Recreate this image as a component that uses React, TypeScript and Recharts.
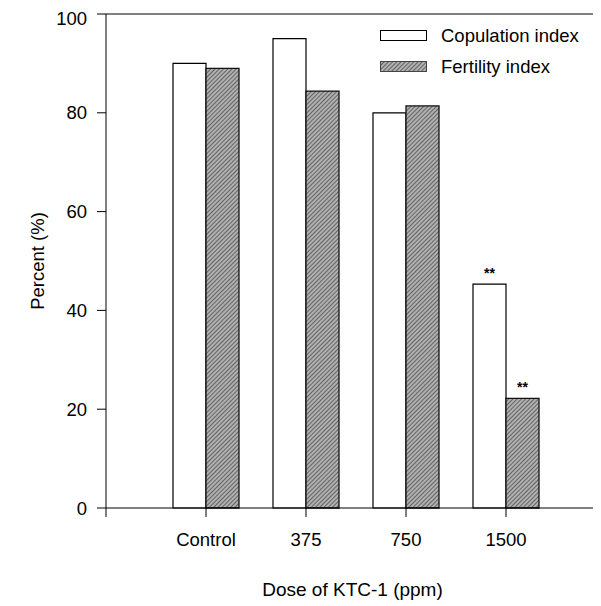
import React from "react";
import { BarChart, Bar, XAxis, YAxis, ReferenceLine, LabelList } from "recharts";

const doses = ["Control", "375", "750", "1500"];
const doseSlots = [1, 2, 3, 4];
const copulation = [90, 95, 80, 45.3];
const fertility = [89, 84.4, 81.4, 22.2];
const copulationMarks = ["", "", "", "**"];
const fertilityMarks = ["", "", "", "**"];
const yTicks = [0, 20, 40, 60, 80, 100];
const xTicks = [0, 1, 2, 3, 4];

const data = doses.map((name, i) => ({
  name,
  slot: doseSlots[i],
  copulation: copulation[i],
  fertility: fertility[i],
  copMark: copulationMarks[i],
  fertMark: fertilityMarks[i],
}));

const font = "'Liberation Sans', Arial, sans-serif";

const LegendBox = () => (
  <div
    style={{
      position: "absolute",
      left: 372,
      top: 12,
      fontFamily: font,
      fontSize: 18.5,
      color: "#000",
    }}
  >
    <div style={{ display: "flex", alignItems: "center", height: 31 }}>
      <svg width={48} height={12} style={{ marginRight: 13 }}>
        <rect x={0.5} y={0.5} width={46} height={10} fill="#fff" stroke="#000" />
      </svg>
      <span>Copulation index</span>
    </div>
    <div style={{ display: "flex", alignItems: "center", height: 31 }}>
      <svg width={48} height={12} style={{ marginRight: 13 }}>
        <rect x={0.5} y={0.5} width={46} height={10} fill="url(#hatch)" stroke="#444" />
      </svg>
      <span>Fertility index</span>
    </div>
  </div>
);

export default function App() {
  return (
    <div style={{ position: "relative", width: 593, height: 598, fontFamily: font }}>
      <BarChart
        width={593}
        height={598}
        data={data}
        margin={{ top: 6, right: 2, left: 0, bottom: 58 }}
        barGap={0}
      >
        <defs>
          <pattern
            id="hatch"
            width={3}
            height={3}
            patternUnits="userSpaceOnUse"
            patternTransform="rotate(45)"
          >
            <rect width={3} height={3} fill="#b0b0b0" />
            <line x1={0} y1={0} x2={0} y2={3} stroke="#3a3a3a" strokeWidth={1.3} />
          </pattern>
        </defs>
        <XAxis
          dataKey="slot"
          type="number"
          domain={[0, 4.93]}
          ticks={xTicks}
          allowDataOverflow
          height={40}
          tickSize={9}
          tickMargin={16}
          axisLine={{ stroke: "#000" }}
          tickLine={{ stroke: "#000" }}
          tick={{ fill: "#000", fontSize: 18.5, fontFamily: font }}
          tickFormatter={(v: number) => doses[v - 1] ?? ""}
          label={{
            value: "Dose of KTC-1 (ppm)",
            position: "bottom",
            offset: 35,
            fill: "#000",
            fontSize: 19,
            fontFamily: font,
          }}
        />
        <YAxis
          domain={[0, 100]}
          ticks={yTicks}
          width={98}
          tickSize={9}
          tickMargin={10}
          axisLine={{ stroke: "#000" }}
          tickLine={{ stroke: "#000" }}
          tick={{ fill: "#000", fontSize: 18.5, fontFamily: font }}
          label={{
            value: "Percent (%)",
            angle: -90,
            position: "insideLeft",
            offset: 29,
            fill: "#000",
            fontSize: 18.5,
            fontFamily: font,
            style: { textAnchor: "middle" },
          }}
        />
        <ReferenceLine y={100} stroke="#000" />
        <Bar
          dataKey="copulation"
          fill="#fff"
          stroke="#000"
          strokeWidth={1.2}
          barSize={33}
          isAnimationActive={false}
        >
          <LabelList
            dataKey="copMark"
            position="top"
            offset={6}
            fill="#000"
            fontSize={14}
            fontWeight="bold"
          />
        </Bar>
        <Bar
          dataKey="fertility"
          fill="url(#hatch)"
          stroke="#111"
          strokeWidth={1.3}
          barSize={33}
          isAnimationActive={false}
        >
          <LabelList
            dataKey="fertMark"
            position="top"
            offset={6}
            fill="#000"
            fontSize={14}
            fontWeight="bold"
          />
        </Bar>
      </BarChart>
      <LegendBox />
    </div>
  );
}
